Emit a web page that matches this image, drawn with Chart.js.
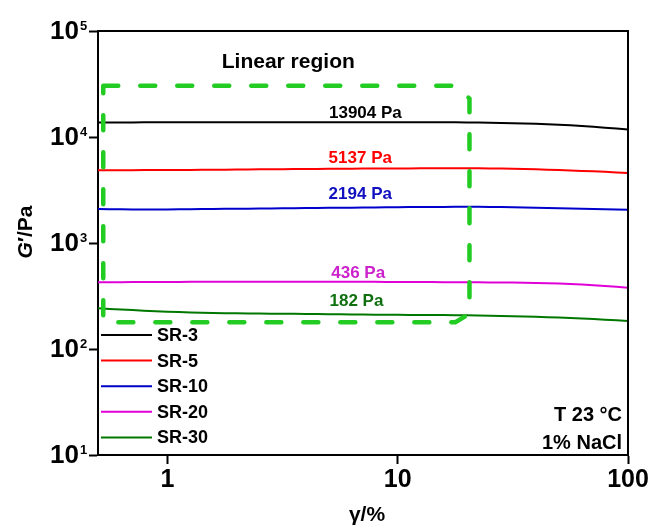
<!DOCTYPE html>
<html><head><meta charset="utf-8">
<script src="https://cdn.jsdelivr.net/npm/chart.js@4.4.0/dist/chart.umd.min.js"></script>
<style>html,body{margin:0;padding:0;background:#fff;}#wrap{width:651px;height:526px;}</style>
</head><body><div id="wrap"><canvas id="c" width="651" height="526"></canvas></div>
<script>
// ---- data ----
const strain = [0.5,0.63,0.79,1,1.26,1.58,2,2.51,3.16,3.98,5.01,6.31,7.94,10,12.6,15.8,20,25.1,31.6,39.8,50.1,63.1,79.4,100];
const seriesNames = ['SR-3','SR-5','SR-10','SR-20','SR-30'];
const seriesColors = ['#000000','#ff0000','#0000cc','#e000d8','#007800'];
const gSR3  = [13700,13720,13740,13750,13760,13760,13770,13770,13780,13780,13780,13780,13780,13770,13760,13750,13730,13650,13500,13300,13050,12700,12250,11750];
const gSR5  = [4850,4860,4870,4880,4890,4910,4930,4950,4970,4990,5010,5030,5040,5050,5060,5070,5070,5050,5010,4950,4880,4790,4690,4580];
const gSR10 = [2090,2080,2070,2075,2085,2095,2105,2115,2125,2135,2145,2155,2165,2175,2185,2190,2195,2190,2175,2155,2130,2105,2080,2055];
const gSR20 = [426,427,428,429,430,430,431,431,431,431,431,430,430,429,428,427,426,425,423,420,414,405,393,379];
const gSR30 = [242,236,230,225,221,219,217,216,215,214,213,212,211,210,209,209,208,206,204,201,198,194,189,184];
const seriesValues = [gSR3,gSR5,gSR10,gSR20,gSR30];
// linear-region box (data coordinates)
const boxX = [0.527,17.9,20.5,20.5,17.8,0.527,0.527];
const boxY = [30500,30500,23000,215,179,179,30500];
// plateau labels
const plateauLabels = ['13904 Pa','5137 Pa','2194 Pa','436 Pa','182 Pa'];
const plateauColors = ['#000000','#ff0000','#1010c0','#cc22cc','#107010'];
const plateauLabelX = [7.24,6.88,6.88,6.74,6.62];
const plateauLabelY = [16800,6300,2850,515,280];
// ticks
const xTickValues = [1,10,100];
const xTickLabels = ['1','10','100'];
const yTickExponents = [1,2,3,4,5];

const FONT = '"Liberation Sans", Arial, sans-serif';

const datasets = seriesNames.map((n,i)=>({
  label:n,
  data: strain.map((x,j)=>({x:x,y:seriesValues[i][j]})),
  borderColor: seriesColors[i], borderWidth:2, pointRadius:0, tension:0.3, fill:false, order:1
}));
datasets.push({
  label:'box',
  data: boxX.map((x,j)=>({x:x,y:boxY[j]})),
  borderColor:'#22cc22', borderWidth:4.5, borderDash:[15,22], borderCapStyle:'round',
  pointRadius:0, tension:0, fill:false, order:0
});

const deco = {
  id:'deco',
  afterDraw(chart){
    const ctx = chart.ctx, a = chart.chartArea, xs = chart.scales.x, ys = chart.scales.y;
    ctx.save();
    // frame
    ctx.strokeStyle='#000'; ctx.lineWidth=2;
    ctx.beginPath();
    ctx.moveTo(a.left, a.top); ctx.lineTo(a.right, a.top); ctx.lineTo(a.right, a.bottom);
    ctx.stroke();
    ctx.fillStyle='#000';
    // y tick labels
    yTickExponents.forEach(e=>{
      const y = ys.getPixelForValue(Math.pow(10,e));
      ctx.font = 'bold 26px '+FONT; ctx.textAlign='right'; ctx.textBaseline='middle';
      ctx.fillText('10', 79, y+1);
      ctx.font = 'bold 13px '+FONT; ctx.textAlign='left';
      ctx.fillText(String(e), 80, y-5);
    });
    // x tick labels
    ctx.font = 'bold 25px '+FONT; ctx.textAlign='center'; ctx.textBaseline='middle';
    xTickValues.forEach((v,i)=>{
      ctx.fillText(xTickLabels[i], xs.getPixelForValue(v), 480);
    });
    // x title
    ctx.font = 'bold 21px '+FONT;
    ctx.fillText('γ/%', 367, 515);
    // y title with italic G
    ctx.save();
    ctx.translate(26, 232); ctx.rotate(-Math.PI/2);
    ctx.font = 'italic bold 21px '+FONT; const wG = ctx.measureText('G').width;
    ctx.font = 'bold 21px '+FONT; const wR = ctx.measureText('′/Pa').width;
    const x0 = -(wG+wR)/2;
    ctx.textAlign='left'; ctx.textBaseline='middle';
    ctx.font = 'italic bold 21px '+FONT; ctx.fillText('G', x0, 0);
    ctx.font = 'bold 21px '+FONT; ctx.fillText('′/Pa', x0+wG, 0);
    ctx.restore();
    // annotation
    ctx.font = 'bold 21px '+FONT; ctx.textAlign='center';
    ctx.fillText('Linear region', xs.getPixelForValue(3.35), ys.getPixelForValue(51000));
    ctx.font = 'bold 17px '+FONT;
    plateauLabels.forEach((t,i)=>{
      ctx.fillStyle = plateauColors[i];
      ctx.fillText(t, xs.getPixelForValue(plateauLabelX[i]), ys.getPixelForValue(plateauLabelY[i]));
    });
    // conditions
    ctx.fillStyle='#000'; ctx.font='bold 20px '+FONT; ctx.textAlign='right';
    ctx.fillText('T 23 °C', a.right-6, 415);
    ctx.fillText('1% NaCl', a.right-6, 443);
    // legend
    ctx.font='bold 18px '+FONT; ctx.textAlign='left';
    seriesNames.forEach((n,i)=>{
      const y = 335 + i*25.6;
      ctx.strokeStyle = seriesColors[i]; ctx.lineWidth=2;
      ctx.beginPath(); ctx.moveTo(a.left+3, y); ctx.lineTo(a.left+54, y); ctx.stroke();
      ctx.fillStyle='#000';
      ctx.fillText(n, a.left+59, y+1);
    });
    ctx.restore();
  }
};

new Chart(document.getElementById('c'), {
  type:'line',
  data:{datasets:datasets},
  options:{
    responsive:false, animation:false,
    layout:{padding:{top:31,right:23,left:0,bottom:0}},
    plugins:{legend:{display:false}, tooltip:{enabled:false}},
    scales:{
      x:{type:'logarithmic', min:0.5, max:100,
         afterBuildTicks:s=>{s.ticks = xTickValues.map(v=>({value:v}));},
         afterFit:s=>{s.height=71;},
         ticks:{display:false},
         grid:{drawOnChartArea:false, drawTicks:true, tickLength:9, tickWidth:2, tickColor:'#000', color:'#000'},
         border:{display:true, color:'#000', width:2}},
      y:{type:'logarithmic', min:10, max:100000,
         afterBuildTicks:s=>{s.ticks = yTickExponents.map(e=>({value:Math.pow(10,e)}));},
         afterFit:s=>{s.width=98;},
         ticks:{display:false},
         grid:{drawOnChartArea:false, drawTicks:true, tickLength:9, tickWidth:2, tickColor:'#000', color:'#000'},
         border:{display:true, color:'#000', width:2}}
    }
  },
  plugins:[deco]
});
</script></body></html>
